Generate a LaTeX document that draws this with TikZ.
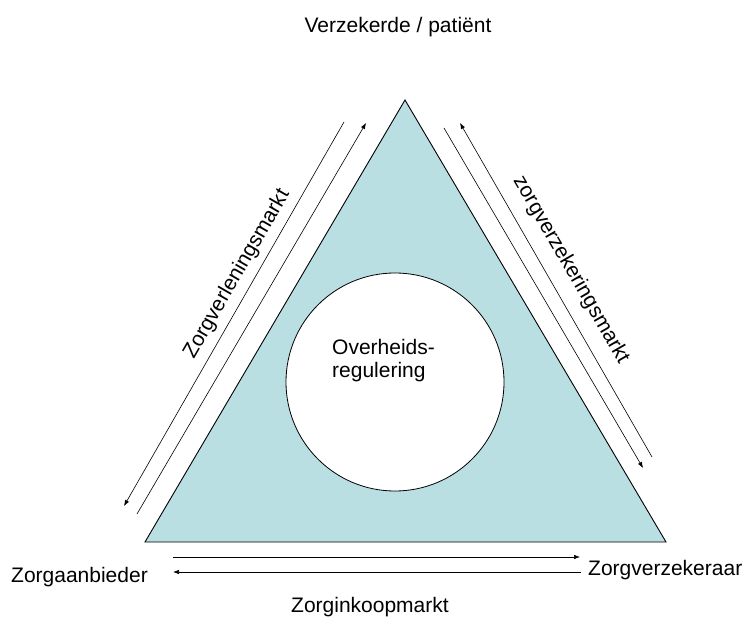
\documentclass[tikz,border=0pt]{standalone}
\usepackage{fontspec}
\setmainfont{Liberation Sans}
\usepackage{tikz}
\usetikzlibrary{arrows.meta,calc,positioning}
\definecolor{triFill}{HTML}{B9DFE3}

\begin{document}
\begin{tikzpicture}[
    x=1pt,y=1pt,
    >={Latex[length=6pt,width=4.5pt]},
    lbl/.style={inner sep=0pt,font=\fontsize{21}{23}\selectfont},
    mkt/.style={->,line width=0.6pt}
  ]
    \useasboundingbox (0,0) rectangle (746,616);

    % driehoek met overheid in het midden
    \coordinate (apex) at (405,516);
    \coordinate (corL) at (145,74);
    \coordinate (corR) at (666,74);
    \draw[fill=triFill,line width=0.9pt] (apex)--(corL)--(corR)--cycle;
    \node[draw,circle,fill=white,minimum size=218pt,line width=0.8pt] (reg) at (395,234) {};
    \node[lbl,align=left,anchor=west] (regtxt) at (332,255) {Overheids-\\regulering};

    % actoren
    \node[lbl,anchor=base] (patient) at (398,583) {Verzekerde / patiënt};
    \node[lbl,anchor=base west] (aanbieder) at (11,34) {Zorgaanbieder};
    \node[lbl,anchor=base west] (verzekeraar) at (588,41) {Zorgverzekeraar};

    % markten
    \node[lbl,rotate=60] (verlening) at (237,342) {Zorgverleningsmarkt};
    \node[lbl,rotate=-60] (verzekering) at (571,346) {zorgverzekeringsmarkt};
    \node[lbl,anchor=base west] (inkoop) at (291,4) {Zorginkoopmarkt};

    \coordinate (lfOutT) at (344,494);
    \coordinate (lfOutB) at (124,110);
    \coordinate (lfInB) at (137,102);
    \coordinate (lfInT) at (366,493);
    \draw[mkt] (lfOutT)--(lfOutB);
    \draw[mkt] (lfInB)--(lfInT);

    \coordinate (rtInT) at (444,488);
    \coordinate (rtInB) at (643,148);
    \coordinate (rtOutB) at (652,159);
    \coordinate (rtOutT) at (460,493);
    \draw[mkt] (rtInT)--(rtInB);
    \draw[mkt] (rtOutB)--(rtOutT);

    \coordinate (btTopL) at (173,59);
    \coordinate (btTopR) at (580,59);
    \coordinate (btLowR) at (581,44);
    \coordinate (btLowL) at (173,44);
    \draw[mkt] (btTopL)--(btTopR);
    \draw[mkt] (btLowR)--(btLowL);
  \end{tikzpicture}
\end{document}
